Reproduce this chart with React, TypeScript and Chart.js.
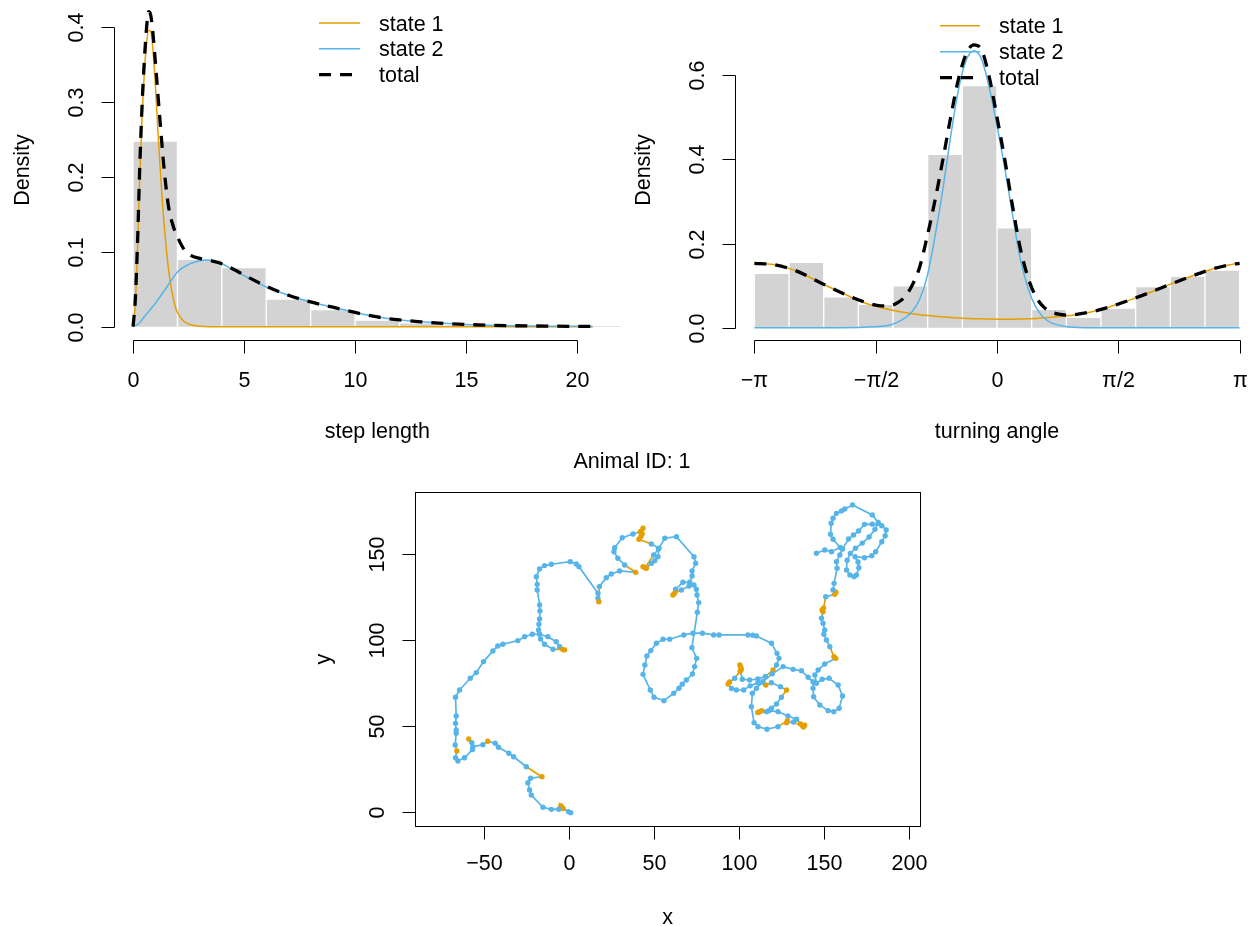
import React, { useEffect, useRef } from "react";
import { Chart, registerables } from "chart.js";

Chart.register(...registerables);

const FONT = '"Liberation Sans", Arial, Helvetica, sans-serif';
const FS = 21.5;
const ORANGE = "#E69F00";
const BLUE = "#56B4E9";
const GRAY = "#D3D3D3";
const PI = Math.PI;

const legendLabels = ["state 1", "state 2", "total"];

// ---------- step length panel ----------
const stepBinStarts = [0, 2, 4, 6, 8, 10, 12, 14, 16, 18, 20];
const stepBinWidth = 2;
const stepHist = [0.2476, 0.0898, 0.0787, 0.0369, 0.0227, 0.0089, 0.005, 0.0025, 0.0012, 0.0007, 0.0005];

const stepX1 = [0, 0.1, 0.2, 0.3, 0.4, 0.5, 0.6, 0.7, 0.8, 0.9, 1.0, 1.1, 1.2, 1.3, 1.4, 1.5, 1.6, 1.7, 1.8, 1.9, 2.0, 2.2, 2.4, 2.7, 3.0, 3.5, 5, 10, 15, 20.7];
const stepState1 = [0, 0.03, 0.1, 0.2, 0.275, 0.335, 0.375, 0.395, 0.394, 0.368, 0.325, 0.272, 0.222, 0.176, 0.136, 0.103, 0.076, 0.055, 0.039, 0.027, 0.019, 0.01, 0.005, 0.0018, 0.0006, 0.0001, 0, 0, 0, 0];

const stepX2 = [0, 0.25, 0.5, 0.75, 1, 1.5, 2, 2.5, 3, 3.3, 3.6, 4, 4.5, 5, 5.5, 6, 7, 8, 9, 10, 11, 12, 13, 14, 15, 16, 17, 18, 19, 20, 20.7];
const stepState2 = [0, 0.004, 0.013, 0.022, 0.031, 0.052, 0.073, 0.083, 0.088, 0.089, 0.088, 0.084, 0.076, 0.068, 0.06, 0.053, 0.042, 0.033, 0.026, 0.019, 0.013, 0.009, 0.0065, 0.0045, 0.003, 0.002, 0.0014, 0.001, 0.0007, 0.0005, 0.0004];

const stepXT = [0, 0.1, 0.2, 0.3, 0.4, 0.5, 0.6, 0.7, 0.8, 0.9, 1.0, 1.2, 1.4, 1.6, 1.8, 2.0, 2.3, 2.6, 3.0, 3.5, 4.0, 4.5, 5, 6, 7, 8, 9, 10, 11, 12, 13, 14, 15, 16, 17, 18, 19, 20, 20.7];
const stepTotal = [0, 0.035, 0.11, 0.21, 0.29, 0.35, 0.395, 0.42, 0.415, 0.39, 0.355, 0.28, 0.21, 0.16, 0.135, 0.12, 0.103, 0.095, 0.091, 0.088, 0.084, 0.077, 0.069, 0.054, 0.042, 0.033, 0.026, 0.019, 0.013, 0.009, 0.0065, 0.0045, 0.003, 0.002, 0.0014, 0.001, 0.0007, 0.0005, 0.0004];

const stepTicks = [0, 5, 10, 15, 20];
const stepTickLabels = ["0", "5", "10", "15", "20"];
const stepDensTicks = [0, 0.1, 0.2, 0.3, 0.4];
const stepDensLabels = ["0.0", "0.1", "0.2", "0.3", "0.4"];

// ---------- turning angle panel ----------
const angleBinStarts = [-3.1416, -2.6928, -2.244, -1.7952, -1.3464, -0.8976, -0.4488, 0, 0.4488, 0.8976, 1.3464, 1.7952, 2.244, 2.6928];
const angleBinWidth = 0.4488;
const angleHist = [0.129, 0.155, 0.0736, 0.0554, 0.0997, 0.412, 0.575, 0.237, 0.0435, 0.0245, 0.0467, 0.0974, 0.122, 0.137];

const angX1 = [-3.1416, -2.9, -2.6, -2.3, -2.0, -1.7, -1.4, -1.1, -0.8, -0.5, -0.2, 0.1, 0.4, 0.7, 1.0, 1.3, 1.6, 1.9, 2.2, 2.5, 2.8, 3.0, 3.1416];
const angState1 = [0.153, 0.15, 0.135, 0.108, 0.082, 0.058, 0.043, 0.033, 0.027, 0.023, 0.021, 0.02, 0.021, 0.025, 0.03, 0.041, 0.058, 0.078, 0.1, 0.121, 0.14, 0.149, 0.153];

const angX2 = [-3.1416, -2.0, -1.6, -1.4, -1.3, -1.2, -1.1, -1.0, -0.9, -0.8, -0.7, -0.6, -0.5, -0.4, -0.3, -0.2, -0.1, 0.0, 0.1, 0.2, 0.3, 0.4, 0.5, 0.6, 0.7, 0.8, 1.0, 1.2, 3.1416];
const angState2 = [0, 0, 0.002, 0.006, 0.012, 0.022, 0.038, 0.068, 0.125, 0.22, 0.33, 0.455, 0.565, 0.635, 0.658, 0.638, 0.57, 0.48, 0.38, 0.27, 0.165, 0.095, 0.05, 0.025, 0.012, 0.006, 0.001, 0, 0];

const angXT = [-3.1416, -2.9, -2.6, -2.3, -2.0, -1.7, -1.5, -1.4, -1.3, -1.2, -1.1, -1.0, -0.9, -0.8, -0.7, -0.6, -0.5, -0.4, -0.3, -0.2, -0.1, 0.0, 0.1, 0.2, 0.3, 0.4, 0.5, 0.6, 0.7, 0.8, 0.9, 1.0, 1.3, 1.6, 1.9, 2.2, 2.5, 2.8, 3.0, 3.1416];
const angTotal = [0.153, 0.15, 0.135, 0.108, 0.082, 0.06, 0.052, 0.052, 0.058, 0.072, 0.1, 0.145, 0.22, 0.305, 0.4, 0.5, 0.59, 0.65, 0.672, 0.66, 0.595, 0.5, 0.4, 0.29, 0.19, 0.12, 0.075, 0.05, 0.038, 0.032, 0.03, 0.031, 0.041, 0.058, 0.078, 0.1, 0.121, 0.14, 0.149, 0.153];

const angTicks = [-PI, -PI / 2, 0, PI / 2, PI];
const angTickLabels = ["\u2212\u03c0", "\u2212\u03c0/2", "0", "\u03c0/2", "\u03c0"];
const angDensTicks = [0, 0.2, 0.4, 0.6];
const angDensLabels = ["0.0", "0.2", "0.4", "0.6"];

// ---------- track panel ----------
const trackX = [0.8, -0.5, -3.6, -4.4, -5.0, -4.6, -6.2, -10.6, -15.5, -22.4, -23.4, -24.4, -22.8, -16.1, -25.3, -32.8, -35.6, -41.7, -43.6, -48.0, -50.9, -56.8, -59.2, -57.4, -57.0, -61.7, -65.6, -67.0, -66.2, -67.2, -66.6, -66.6, -67.0, -66.6, -67.0, -64.6, -58.3, -54.8, -50.5, -45.0, -42.1, -39.1, -30.3, -26.3, -21.8, -17.5, -12.6, -7.7, -5.7, -2.8, -3.8, -9.6, -14.6, -16.9, -18.1, -17.9, -17.5, -17.3, -17.5, -18.9, -18.9, -19.4, -17.5, -14.6, -10.6, 0.6, 4.1, 5.7, 16.9, 16.9, 17.4, 17.7, 21.8, 24.7, 29.6, 39.1, 32.6, 28.6, 26.3, 26.7, 31.2, 37.5, 41.8, 43.4, 42.9, 42.2, 41.0, 48.3, 52.8, 52.2, 50.3, 48.3, 45.4, 43.4, 44.6, 49.7, 52.5, 56.2, 63.1, 73.4, 74.4, 72.3, 72.3, 70.9, 66.9, 62.6, 61.0, 62.0, 66.0, 70.5, 73.4, 74.8, 75.2, 76.2, 75.4, 72.2, 75.0, 73.8, 72.5, 68.9, 66.5, 64.6, 61.5, 55.7, 49.9, 47.7, 43.4, 44.5, 45.7, 48.0, 51.3, 55.2, 59.1, 67.4, 72.8, 78.4, 85.0, 88.2, 105.2, 108.0, 110.2, 119.0, 122.3, 123.5, 122.0, 120.0, 115.5, 111.0, 106.2, 101.9, 100.6, 101.0, 100.4, 101.3, 97.4, 94.4, 93.5, 95.5, 98.4, 102.7, 106.5, 111.1, 115.7, 119.0, 124.3, 127.9, 124.9, 122.0, 119.0, 116.1, 112.1, 111.0, 113.3, 117.5, 122.9, 128.8, 133.8, 136.2, 137.4, 138.6, 137.9, 132.0, 127.9, 128.4, 122.9, 116.4, 111.1, 108.8, 107.2, 107.8, 110.2, 114.0, 119.5, 125.9, 131.8, 136.7, 140.6, 143.5, 143.5, 143.9, 147.5, 152.4, 155.7, 158.9, 160.9, 158.3, 153.0, 148.9, 145.5, 144.6, 146.5, 150.4, 156.9, 155.8, 153.4, 151.4, 149.9, 150.4, 149.4, 148.5, 149.4, 148.8, 149.7, 151.0, 156.3, 157.0, 155.3, 155.9, 157.7, 157.3, 159.3, 160.9, 164.4, 167.3, 170.3, 173.8, 178.4, 184.0, 186.6, 186.0, 184.0, 180.4, 178.1, 173.8, 168.3, 170.0, 170.5, 169.1, 167.7, 165.2, 163.2, 163.6, 165.5, 168.5, 172.5, 176.5, 180.0, 181.9, 178.4, 166.8, 162.2, 160.2, 157.3, 155.3, 154.2, 153.8, 155.3, 159.5, 154.4, 150.4, 145.5];
const trackY = [-0.2, 0.4, 2.2, 3.0, 3.8, 2.6, 1.8, 1.7, 2.9, 10.0, 13.0, 17.2, 19.8, 20.7, 26.5, 32.3, 34.3, 37.8, 40.1, 41.3, 39.3, 38.1, 42.6, 40.5, 36.5, 31.7, 29.8, 31.7, 35.6, 39.1, 45.9, 47.8, 51.7, 56.0, 66.9, 71.1, 77.9, 81.2, 87.6, 93.8, 96.7, 97.7, 99.8, 102.1, 103.5, 103.5, 102.1, 99.2, 96.3, 94.4, 94.6, 94.8, 97.7, 100.8, 106.0, 109.3, 112.4, 117.0, 120.5, 129.2, 132.5, 137.0, 141.5, 143.4, 144.2, 145.7, 144.4, 142.8, 127.3, 124.4, 122.4, 131.2, 136.4, 138.5, 140.3, 139.5, 143.8, 147.7, 151.5, 153.8, 159.6, 161.8, 163.1, 165.1, 162.0, 160.4, 158.7, 156.0, 153.5, 148.6, 146.3, 144.8, 141.9, 142.8, 142.2, 149.6, 153.0, 159.3, 160.2, 148.6, 144.8, 140.3, 137.4, 133.7, 133.7, 129.7, 126.3, 127.4, 129.2, 131.5, 132.1, 129.7, 126.3, 121.9, 116.3, 95.7, 89.5, 84.7, 80.4, 76.9, 74.5, 72.1, 69.2, 64.9, 66.9, 71.1, 80.2, 85.6, 90.9, 94.0, 98.3, 100.6, 100.6, 103.1, 104.1, 104.1, 103.1, 103.1, 103.1, 102.9, 102.5, 98.3, 92.4, 89.5, 85.6, 82.7, 79.0, 77.5, 76.9, 77.3, 82.0, 84.2, 85.6, 83.0, 77.9, 75.8, 74.6, 72.0, 71.1, 71.1, 73.5, 75.3, 74.0, 75.3, 73.0, 71.1, 66.9, 63.0, 60.5, 58.5, 58.5, 58.0, 59.0, 59.0, 58.5, 56.0, 54.1, 51.4, 50.2, 50.6, 49.6, 52.5, 52.1, 53.2, 49.8, 48.3, 49.8, 52.1, 61.4, 69.2, 72.1, 76.0, 80.5, 84.7, 83.1, 82.3, 78.5, 75.9, 72.1, 67.2, 62.4, 59.1, 58.5, 60.5, 67.6, 74.0, 77.9, 77.3, 75.0, 79.8, 82.7, 86.2, 89.5, 90.4, 96.3, 100.2, 103.5, 106.0, 109.9, 112.8, 116.6, 117.6, 118.7, 125.3, 126.7, 128.0, 129.2, 133.1, 141.9, 145.7, 149.6, 153.1, 158.9, 161.2, 163.5, 167.4, 167.5, 166.6, 164.1, 160.8, 157.3, 151.5, 149.2, 148.0, 148.6, 145.5, 142.2, 138.0, 137.0, 138.0, 140.9, 146.5, 150.5, 153.5, 156.5, 160.0, 164.5, 168.5, 172.9, 178.7, 176.3, 175.2, 173.8, 170.9, 168.0, 161.6, 158.7, 154.0, 151.5, 152.5, 150.6];
const trackState = [2, 2, 1, 1, 1, 1, 2, 2, 2, 2, 2, 2, 2, 1, 2, 2, 2, 2, 2, 1, 2, 2, 1, 2, 2, 2, 2, 2, 1, 2, 2, 2, 2, 2, 2, 2, 2, 2, 2, 2, 2, 2, 2, 2, 2, 2, 2, 2, 2, 1, 1, 2, 2, 2, 2, 2, 2, 2, 2, 2, 2, 2, 2, 2, 2, 2, 2, 2, 2, 2, 1, 2, 2, 2, 2, 1, 2, 2, 2, 2, 2, 2, 1, 1, 1, 1, 1, 2, 2, 2, 2, 2, 1, 1, 1, 2, 2, 2, 2, 2, 2, 2, 2, 2, 2, 2, 1, 1, 2, 2, 2, 2, 2, 2, 2, 2, 2, 2, 2, 2, 2, 2, 2, 2, 2, 2, 2, 2, 2, 2, 2, 2, 2, 2, 2, 2, 2, 2, 2, 2, 2, 2, 2, 2, 2, 1, 2, 2, 2, 2, 1, 1, 1, 1, 2, 1, 1, 2, 2, 2, 2, 2, 1, 2, 2, 1, 2, 2, 2, 2, 1, 1, 1, 2, 2, 2, 2, 1, 1, 1, 1, 2, 1, 1, 2, 2, 2, 2, 2, 2, 2, 2, 2, 2, 2, 2, 2, 2, 2, 2, 2, 2, 2, 2, 2, 2, 2, 2, 2, 2, 2, 2, 1, 1, 2, 2, 2, 2, 2, 2, 1, 1, 1, 2, 1, 1, 2, 2, 2, 2, 2, 2, 2, 2, 2, 2, 2, 2, 2, 2, 2, 2, 2, 2, 2, 2, 2, 2, 2, 2, 2, 2, 2, 2, 2, 2, 2, 2, 2, 2, 2, 2, 2, 2, 2, 2, 2, 2, 2, 2, 2, 2];

const trackXTicks = [-50, 0, 50, 100, 150, 200];
const trackXLabels = ["\u221250", "0", "50", "100", "150", "200"];
const trackYTicks = [0, 50, 100, 150];
const trackYLabels = ["0", "50", "100", "150"];
const trackTitle = "Animal ID: 1";

// ---------- R-style axes plugin ----------
type LegendSpec = { x1: number; x2: number; textX: number; rows: number[] };
type RSpec = {
  xTicks: number[];
  xLabels: string[];
  yTicks: number[];
  yLabels: string[];
  xTitle: string;
  yTitle: string;
  box: boolean;
  xLabelOff: number;
  legend?: LegendSpec;
  main?: { text: string; x: number; y: number };
};

const TICK_LEN = 13;
const X_TITLE_OFF = 98;
const Y_LABEL_OFF = 31;
const Y_TITLE_OFF = 85;

function makeRPlugin(spec: RSpec) {
  return {
    id: "rStyle",
    afterDatasetsDraw(chart: any) {
      const ctx = chart.ctx as CanvasRenderingContext2D;
      const a = chart.chartArea;
      const xs = chart.scales.x;
      const ys = chart.scales.y;
      ctx.save();
      ctx.strokeStyle = "#000";
      ctx.fillStyle = "#000";
      ctx.lineWidth = 1;
      ctx.setLineDash([]);
      ctx.font = `${FS}px ${FONT}`;
      const by = Math.round(a.bottom) + 0.5;
      const lx = Math.round(a.left) + 0.5;
      if (spec.box) {
        ctx.strokeRect(lx, Math.round(a.top) + 0.5, Math.round(a.right) - Math.round(a.left), Math.round(a.bottom) - Math.round(a.top));
      }
      const xp = spec.xTicks.map((v) => Math.round(xs.getPixelForValue(v)) + 0.5);
      const yp = spec.yTicks.map((v) => Math.round(ys.getPixelForValue(v)) + 0.5);
      ctx.beginPath();
      if (!spec.box) {
        ctx.moveTo(xp[0], by);
        ctx.lineTo(xp[xp.length - 1], by);
        ctx.moveTo(lx, yp[0]);
        ctx.lineTo(lx, yp[yp.length - 1]);
      }
      xp.forEach((p) => {
        ctx.moveTo(p, by);
        ctx.lineTo(p, by + TICK_LEN);
      });
      yp.forEach((p) => {
        ctx.moveTo(lx, p);
        ctx.lineTo(lx - TICK_LEN, p);
      });
      ctx.stroke();

      ctx.textAlign = "center";
      ctx.textBaseline = "alphabetic";
      xp.forEach((p, i) => ctx.fillText(spec.xLabels[i], p, a.bottom + spec.xLabelOff));
      ctx.fillText(spec.xTitle, (a.left + a.right) / 2, a.bottom + X_TITLE_OFF);
      yp.forEach((p, i) => {
        ctx.save();
        ctx.translate(a.left - Y_LABEL_OFF, p);
        ctx.rotate(-PI / 2);
        ctx.fillText(spec.yLabels[i], 0, 0);
        ctx.restore();
      });
      ctx.save();
      ctx.translate(a.left - Y_TITLE_OFF, (a.top + a.bottom) / 2);
      ctx.rotate(-PI / 2);
      ctx.fillText(spec.yTitle, 0, 0);
      ctx.restore();

      if (spec.legend) {
        const L = spec.legend;
        const styles = [
          { c: ORANGE, w: 1.5, d: [] as number[] },
          { c: BLUE, w: 1.5, d: [] as number[] },
          { c: "#000", w: 3.3, d: [12, 9] },
        ];
        styles.forEach((s, i) => {
          const y = L.rows[i];
          ctx.save();
          ctx.strokeStyle = s.c;
          ctx.lineWidth = s.w;
          ctx.setLineDash(s.d);
          ctx.beginPath();
          ctx.moveTo(L.x1, y);
          ctx.lineTo(L.x2, y);
          ctx.stroke();
          ctx.restore();
          ctx.textAlign = "left";
          ctx.fillText(legendLabels[i], L.textX, y + 7.5);
        });
      }
      if (spec.main) {
        ctx.textAlign = "center";
        ctx.fillText(spec.main.text, spec.main.x, spec.main.y);
      }
      ctx.restore();
    },
  };
}

function curve(xs: number[], ys: number[], color: string, width: number, dash: number[], order: number) {
  return {
    type: "line",
    data: xs.map((x, i) => ({ x, y: ys[i] })),
    borderColor: color,
    borderWidth: width,
    borderDash: dash,
    borderCapStyle: "butt",
    pointRadius: 0,
    fill: false,
    cubicInterpolationMode: "monotone",
    order,
  };
}

function histogram(starts: number[], width: number, values: number[]) {
  return {
    type: "bar",
    data: starts.map((s, i) => ({ x: s + width / 2, y: values[i] })),
    backgroundColor: GRAY,
    borderColor: "#ffffff",
    borderWidth: { left: 1, right: 1, top: 1, bottom: 0 },
    borderSkipped: false,
    barPercentage: 1,
    categoryPercentage: 1,
    order: 10,
  };
}

function fixedTicks(values: number[]) {
  return (scale: any) => {
    scale.ticks = values.map((v) => ({ value: v }));
  };
}

function baseOptions(padding: any, xr: number[], yr: number[], xt: number[], yt: number[]) {
  return {
    animation: false,
    responsive: false,
    maintainAspectRatio: false,
    devicePixelRatio: 1,
    events: [],
    layout: { padding },
    plugins: { legend: { display: false }, tooltip: { enabled: false }, title: { display: false } },
    scales: {
      x: { type: "linear", min: xr[0], max: xr[1], display: false, offset: false, afterBuildTicks: fixedTicks(xt) },
      y: { type: "linear", min: yr[0], max: yr[1], display: false, afterBuildTicks: fixedTicks(yt) },
    },
  };
}

export default function App() {
  const c1 = useRef<HTMLCanvasElement>(null);
  const c2 = useRef<HTMLCanvasElement>(null);
  const c3 = useRef<HTMLCanvasElement>(null);

  useEffect(() => {
    const charts: Chart[] = [];

    charts.push(
      new Chart(c1.current as HTMLCanvasElement, {
        type: "line",
        data: {
          datasets: [
            histogram(stepBinStarts, stepBinWidth, stepHist),
            curve(stepX1, stepState1, ORANGE, 1.5, [], 3),
            curve(stepX2, stepState2, BLUE, 1.5, [], 2),
            curve(stepXT, stepTotal, "#000", 3.3, [12, 9], 1),
          ] as any,
        },
        options: baseOptions({ left: 113.5, right: 19, top: 0, bottom: 130 }, [-0.88, 22.88], [-0.01773, 0.4356], stepTicks, stepDensTicks) as any,
        plugins: [
          makeRPlugin({
            xTicks: stepTicks,
            xLabels: stepTickLabels,
            yTicks: stepDensTicks,
            yLabels: stepDensLabels,
            xTitle: "step length",
            yTitle: "Density",
            box: false,
            xLabelOff: 47,
            legend: { x1: 319, x2: 360, textX: 379, rows: [23, 48.8, 74.6] },
          }),
        ],
      })
    );

    charts.push(
      new Chart(c2.current as HTMLCanvasElement, {
        type: "line",
        data: {
          datasets: [
            histogram(angleBinStarts, angleBinWidth, angleHist),
            curve(angX1, angState1, ORANGE, 1.5, [], 3),
            curve(angX2, angState2, BLUE, 1.5, [], 2),
            curve(angXT, angTotal, "#000", 3.3, [12, 9], 1),
          ] as any,
        },
        options: baseOptions({ left: 109, right: 7, top: 0, bottom: 130 }, [-3.393, 3.393], [-0.0292, 0.7784], angTicks, angDensTicks) as any,
        plugins: [
          makeRPlugin({
            xTicks: angTicks,
            xLabels: angTickLabels,
            yTicks: angDensTicks,
            yLabels: angDensLabels,
            xTitle: "turning angle",
            yTitle: "Density",
            box: false,
            xLabelOff: 47,
            legend: { x1: 314, x2: 354, textX: 373, rows: [25.7, 51.7, 77.7] },
          }),
        ],
      })
    );

    const pts = trackX.map((x, i) => ({ x, y: trackY[i] }));
    const ptColors = trackState.map((s) => (s === 1 ? ORANGE : BLUE));
    charts.push(
      new Chart(c3.current as HTMLCanvasElement, {
        type: "line",
        data: {
          datasets: [
            {
              data: pts,
              showLine: true,
              borderColor: BLUE,
              borderWidth: 1.7,
              tension: 0,
              fill: false,
              pointRadius: 2.7,
              pointBorderWidth: 0,
              pointBackgroundColor: ptColors,
              pointBorderColor: ptColors,
              segment: {
                borderColor: (ctx: any) => (trackState[ctx.p0DataIndex] === 1 ? ORANGE : BLUE),
              },
            },
          ] as any,
        },
        options: baseOptions({ left: 115, right: 80, top: 52, bottom: 100 }, [-90.85, 206.5], [-7.97, 186.2], trackXTicks, trackYTicks) as any,
        plugins: [
          makeRPlugin({
            xTicks: trackXTicks,
            xLabels: trackXLabels,
            yTicks: trackYTicks,
            yLabels: trackYLabels,
            xTitle: "x",
            yTitle: "y",
            box: true,
            xLabelOff: 44,
            main: { text: trackTitle, x: 332, y: 28 },
          }),
        ],
      })
    );

    return () => {
      charts.forEach((c) => c.destroy());
    };
  }, []);

  return (
    <div style={{ position: "absolute", left: 0, top: 0, width: 1253, height: 926, overflow: "hidden", background: "#ffffff" }}>
      <canvas ref={c1} width={660} height={470} style={{ position: "absolute", left: 0, top: 0, width: 660, height: 470 }} />
      <canvas ref={c2} width={640} height={470} style={{ position: "absolute", left: 626, top: 0, width: 640, height: 470 }} />
      <canvas ref={c3} width={700} height={486} style={{ position: "absolute", left: 300, top: 440, width: 700, height: 486 }} />
    </div>
  );
}
